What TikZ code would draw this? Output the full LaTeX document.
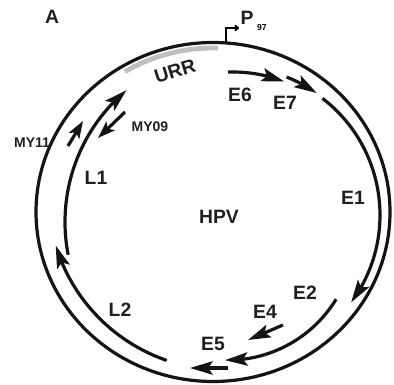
\documentclass[tikz,border=0pt]{standalone}
\usepackage{fontspec}
\setmainfont{Liberation Sans}
\usetikzlibrary{arrows.meta,bending}
\begin{document}
\begin{tikzpicture}[x=0.75pt,y=0.75pt,
  track/.style={line width=2.4pt, black!92},
  gene/.style={track, -{Stealth[length=17pt,width=10pt,inset=3.5pt]}},
  primerarrow/.style={track, -{Stealth[length=13pt,width=9pt,inset=3pt]}},
  lbl/.style={font=\bfseries\fontsize{14.5}{16}\selectfont, text=black!88, inner sep=0pt},
  small/.style={font=\bfseries\fontsize{10.5}{12}\selectfont, text=black!88, inner sep=0pt}]
\useasboundingbox (0,0) rectangle (394,-385);

% centres of the backbone and of the gene tracks
\coordinate (O)  at (213,-212);
\coordinate (CE) at (233,-215);
\coordinate (C2) at (227.6,-233.2);
\coordinate (CL1) at (237,-222);
\coordinate (CL2) at (224,-194);

% circular genome
\draw[track] (O) ellipse [x radius=177, y radius=169.5];

% upstream regulatory region
\draw[line width=3.6pt, black!25] (O) ++(88.3:170 and 164)
  arc [start angle=88.3, end angle=121.2, x radius=170, y radius=164];

% early promoter
\coordinate (prom) at (226,-43);
\coordinate (promend) at (239,-28);
\draw[line width=1.3pt, -{To[length=3.5pt,width=5pt]}] (prom) |- (promend);
\node[lbl] (p) at (247,-18) {P};
\node[font=\bfseries\fontsize{6.5}{7}\selectfont, inner sep=0pt] (p97) at (262,-28) {97};

% early genes
\draw[gene] (CE) ++(92:143) arc [start angle=92, end angle=69, radius=143];
\draw[gene] (CE) ++(68.8:148) arc [start angle=68.8, end angle=55.5, radius=148];
\draw[gene] (CE) ++(52.5:147) arc [start angle=52.5, end angle=-36.5, radius=147];
\draw[gene] (C2) ++(-31.3:127) arc [start angle=-31.3, end angle=-91.2, radius=127];
\coordinate (e4s) at (283,-325); \coordinate (e4t) at (248,-340);
\draw[gene] (e4s) -- (e4t);
\coordinate (e5s) at (228,-368); \coordinate (e5t) at (190,-368);
\draw[gene] (e5s) -- (e5t);

% late genes
\draw[gene] (CL2) ++(251:176) arc [start angle=251, end angle=197, radius=176];
\draw[gene] (CL1) ++(191:172) arc [start angle=191, end angle=130, radius=172];

% primers
\coordinate (my11s) at (68,-146); \coordinate (my11t) at (83,-121);
\draw[primerarrow] (my11s) -- (my11t);
\coordinate (my09s) at (125,-112); \coordinate (my09t) at (98,-138);
\draw[primerarrow] (my09s) -- (my09t);

% labels
\node[lbl] (A) at (52,-17) {A};
\node[lbl, rotate=17] (urr) at (175,-71) {URR};
\node[lbl] (e6) at (240,-95) {E6};
\node[lbl] (e7) at (285,-103) {E7};
\node[lbl] (e1) at (353,-198) {E1};
\node[lbl] (e2) at (305,-293) {E2};
\node[lbl] (e4) at (265,-312) {E4};
\node[lbl] (e5) at (213,-344) {E5};
\node[lbl] (l1) at (96,-178) {L1};
\node[lbl] (l2) at (120,-310) {L2};
\node[lbl] (hpv) at (219,-217) {HPV};
\node[small] (my09) at (150,-127) {MY09};
\node[small] (my11) at (32,-143) {MY11};
\end{tikzpicture}
\end{document}
